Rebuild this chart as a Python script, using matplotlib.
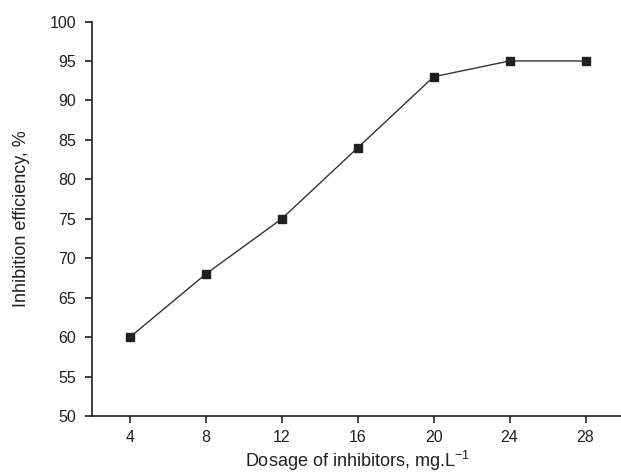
import matplotlib.pyplot as plt

dosage = [4, 8, 12, 16, 20, 24, 28]
efficiency = [60, 68, 75, 84, 93, 95, 95]
y_ticks = [50, 55, 60, 65, 70, 75, 80, 85, 90, 95, 100]

plt.rcParams['font.family'] = ['Liberation Sans', 'DejaVu Sans']

fig = plt.figure(figsize=(6.21, 4.76), dpi=100)
ax = fig.add_axes([92 / 621, 1 - 416 / 476, 1 - 92 / 621 + 0.004, (416 - 21.5) / 476])

ax.plot(dosage, efficiency, color='#333333', linewidth=1.0,
        marker='s', markersize=5.5, markerfacecolor='#231f20', markeredgecolor='#231f20')

ax.set_xlim(2, 30)
ax.set_ylim(50, 100)
ax.set_xticks(dosage)
ax.set_yticks(y_ticks)
ax.tick_params(direction='out', length=5, width=1.2, labelsize=11.5, colors='#231f20')
ax.tick_params(axis='y', pad=6.5)
ax.tick_params(axis='x', pad=5)

for side in ('top', 'right'):
    ax.spines[side].set_visible(False)
for side in ('left', 'bottom'):
    ax.spines[side].set_linewidth(1.2)
    ax.spines[side].set_color('#231f20')

ax.set_xlabel('Dosage of inhibitors, mg.L$^{\\mathregular{-1}}$', fontsize=13, color='#231f20', labelpad=3)
ax.set_ylabel('Inhibition efficiency, %', fontsize=13, color='#231f20', labelpad=14)

fig.savefig('out.png', dpi=100)
